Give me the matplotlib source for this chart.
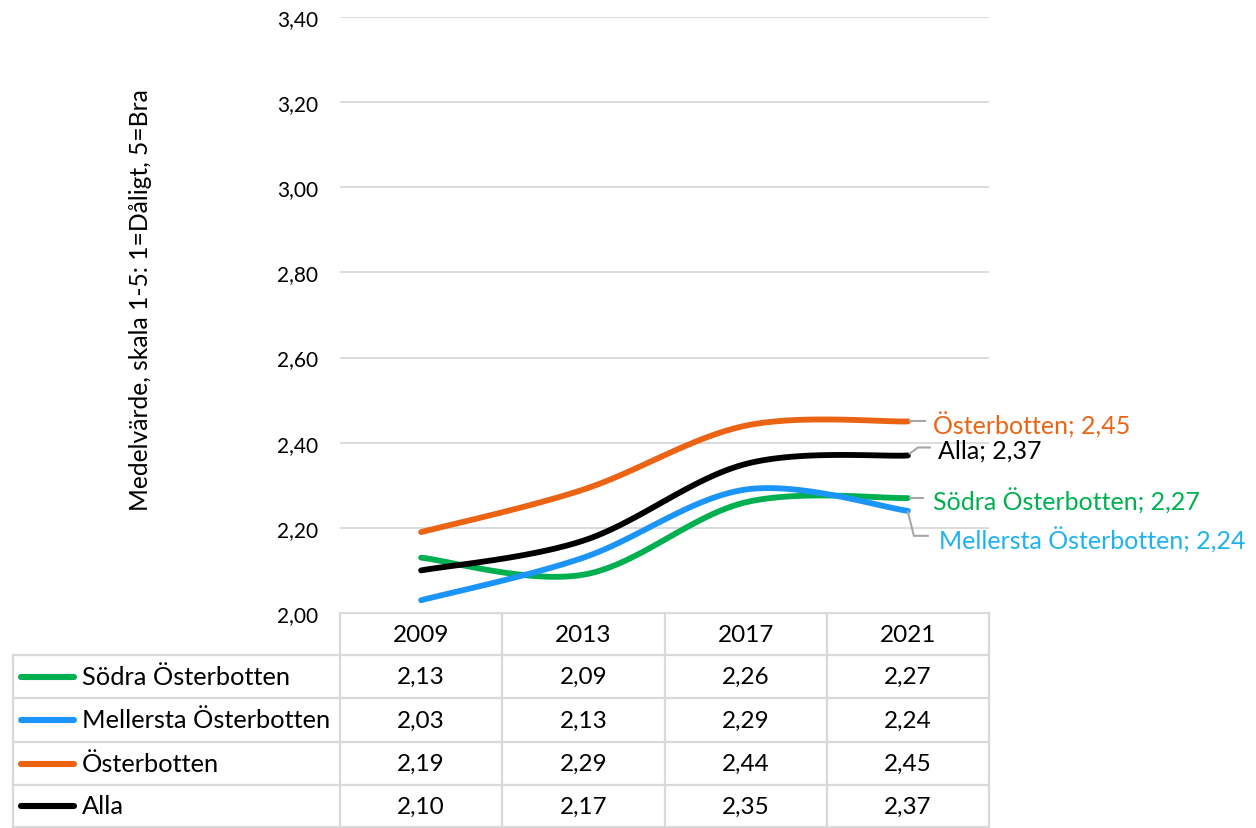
import numpy as np
import matplotlib
matplotlib.use("Agg")
import matplotlib.pyplot as plt
from matplotlib.lines import Line2D
from matplotlib.transforms import IdentityTransform

plt.rcParams['font.family'] = ['Lato', 'DejaVu Sans']

# ---------------- data ----------------
years = ["2009", "2013", "2017", "2021"]
series_names = ["Södra Österbotten", "Mellersta Österbotten", "Österbotten", "Alla"]
sodra = [2.13, 2.09, 2.26, 2.27]
mellersta = [2.03, 2.13, 2.29, 2.24]
osterbotten = [2.19, 2.29, 2.44, 2.45]
alla = [2.10, 2.17, 2.35, 2.37]
yticks = [2.00, 2.20, 2.40, 2.60, 2.80, 3.00, 3.20, 3.40]
ylabel = "Medelvärde, skala 1-5: 1=Dåligt, 5=Bra"

values = [sodra, mellersta, osterbotten, alla]
line_colors = ["#00B050", "#1C95FB", "#EA6414", "#000000"]
label_colors = ["#00B050", "#1FB2EE", "#EA6414", "#000000"]

W, H = 1256, 829
fig = plt.figure(figsize=(W / 100, H / 100), dpi=100)

def fx(px):
    return px / W

def fy(py):
    return 1 - py / H

# main plot area
L, R, T, B = 340, 989, 18, 614
ax = fig.add_axes([fx(L), fy(B), fx(R) - fx(L), fy(T) - fy(B)])
ax.set_xlim(-0.5, len(years) - 0.5)
ax.set_ylim(yticks[0], yticks[-1])
ax.set_yticks(yticks)
ax.set_yticklabels([f"{t:.2f}".replace(".", ",") for t in yticks], fontsize=15)
ax.set_xticks([])
ax.tick_params(axis='y', length=0, pad=15.8)
for s in ax.spines.values():
    s.set_visible(False)
ax.grid(axis='y', color="#D9D9D9", lw=1.3)
ax.set_axisbelow(True)


def excel_smooth(xs, ys, n=40):
    P = np.column_stack([xs, ys]).astype(float)
    out = []
    for i in range(len(P) - 1):
        p0 = P[i - 1] if i > 0 else P[i]
        p1 = P[i]
        p2 = P[i + 1]
        p3 = P[i + 2] if i + 2 < len(P) else P[i + 1]
        c1 = p1 + (p2 - p0) / 6
        c2 = p2 - (p3 - p1) / 6
        t = np.linspace(0, 1, n)[:, None]
        seg = ((1 - t) ** 3) * p1 + 3 * ((1 - t) ** 2) * t * c1 + 3 * (1 - t) * t ** 2 * c2 + t ** 3 * p2
        out.append(seg if i == 0 else seg[1:])
    return np.vstack(out)

xs = np.arange(len(years))
for vals, col in zip(values, line_colors):
    c = excel_smooth(xs, vals)
    ax.plot(c[:, 0], c[:, 1], color=col, lw=4.2, solid_capstyle='round', zorder=3)

# data labels with leader lines (offsets in pixels, image y downwards)
leaders = {
    "Österbotten": ([(2, 0), (17, 0)], (25, 3)),
    "Alla": ([(2, -2), (10, -8), (22, -8)], (30, -5)),
    "Södra Österbotten": ([(2, 0), (15, 0)], (25, 2)),
    "Mellersta Österbotten": ([(0, 1), (6, 25), (20, 25)], (31, 29)),
}
for name, vals, lcol in zip(series_names, values, label_colors):
    bx, by = ax.transData.transform((xs[-1], vals[-1]))
    pts, (tx, ty) = leaders[name]
    lx = [bx + p[0] for p in pts]
    ly = [by - p[1] for p in pts]
    fig.add_artist(Line2D(lx, ly, transform=IdentityTransform(), color="#A6A6A6", lw=1.5))
    fig.text((bx + tx) / W, (by - ty) / H, f"{name}; " + f"{vals[-1]:.2f}".replace(".", ","),
             color=lcol, fontsize=18, ha='left', va='center')

# y label
fig.text(fx(140), fy(300), ylabel, rotation=90, fontsize=17.7, ha='center', va='center')

# ---------------- data table ----------------
tab = fig.add_axes([0, 0, 1, 1], zorder=-1)
tab.set_xlim(0, W)
tab.set_ylim(H, 0)
tab.axis('off')

col_edges = [ax.transData.transform((x, 0))[0] for x in np.arange(len(years) + 1) - 0.5]
row_edges = [614, 656, 699, 743, 786, 828]
left_edge = 13
gc = "#D9D9D9"
glw = 1.6
# header row borders (only over data columns)
tab.plot([col_edges[0], col_edges[-1]], [row_edges[0], row_edges[0]], color=gc, lw=glw)
for y in row_edges[1:]:
    tab.plot([left_edge, col_edges[-1]], [y, y], color=gc, lw=glw)
for x in col_edges:
    tab.plot([x, x], [row_edges[0], row_edges[-1]], color=gc, lw=glw)
tab.plot([left_edge, left_edge], [row_edges[1], row_edges[-1]], color=gc, lw=glw)

centers = [(a + b) / 2 for a, b in zip(col_edges[:-1], col_edges[1:])]
for cx, yr in zip(centers, years):
    tab.text(cx, (row_edges[0] + row_edges[1]) / 2, yr, fontsize=17.5, ha='center', va='center')
for i, (name, vals, lcol) in enumerate(zip(series_names, values, line_colors)):
    cy = (row_edges[i + 1] + row_edges[i + 2]) / 2
    tab.plot([21, 74], [cy, cy], color=lcol, lw=4.4, solid_capstyle='round')
    tab.text(82, cy, name, fontsize=18.3, ha='left', va='center')
    for cx, v in zip(centers, vals):
        tab.text(cx, cy, f"{v:.2f}".replace(".", ","), fontsize=17.5, ha='center', va='center')

fig.savefig("out.png", dpi=100)
